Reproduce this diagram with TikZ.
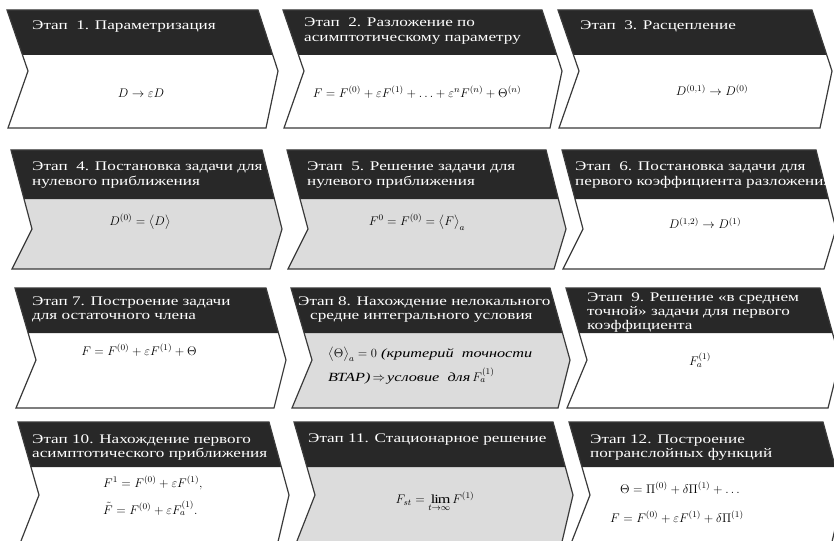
\RequirePackage{fix-cm}
\documentclass[tikz,border=0pt]{standalone}
\usepackage{fontspec}
\setmainfont{Liberation Serif}[FakeStretch=1.3]
\usepackage{graphicx}
\usepackage{amsmath}
\definecolor{hdr}{HTML}{282828}
\definecolor{bodygray}{HTML}{DCDCDC}
\definecolor{outc}{HTML}{3A3A3A}
\newcommand\hfont{\fontsize{13.2}{14.5}\selectfont}
\newcommand\ffont{\fontsize{12.5}{15}\selectfont}
\newcommand\mth[1]{$#1$}
\tikzset{
  hdrtext/.style={anchor=base west, inner sep=0pt, text=white, font=\hfont},
  formula/.style={inner sep=0pt, font=\ffont},
  formulaleft/.style={inner sep=0pt, font=\ffont, anchor=base west},
  chevline/.style={draw=outc, line width=1.2pt, line join=miter},
}
% #1 x0, #2 width, #3 top, #4 header bottom, #5 mid, #6 bottom, #7 body fill
\newcommand\chev[7]{%
  \pgfmathsetmacro\hL{#1+21*(#4-#3)/(#5-#3)}%
  \pgfmathsetmacro\hR{#1+#2+20*(#4-#3)/(#5-#3)}%
  \pgfmathsetmacro\nL{#1+21}%
  \pgfmathsetmacro\nR{#1+#2+20}%
  \pgfmathsetmacro\bL{#1+1}%
  \pgfmathsetmacro\bR{#1+#2+8}%
  \pgfmathsetmacro\tR{#1+#2}%
  \path[fill=#7] (#1,#3) -- (\tR,#3) -- (\nR,#5) -- (\bR,#6) -- (\bL,#6) -- (\nL,#5) -- cycle;
  \path[fill=hdr] (#1,#3) -- (\tR,#3) -- (\hR,#4) -- (\hL,#4) -- cycle;
  \path[chevline] (#1,#3) -- (\tR,#3) -- (\nR,#5) -- (\bR,#6) -- (\bL,#6) -- (\nL,#5) -- cycle;
}
\begin{document}
\begin{tikzpicture}[x=1pt,y=-1pt]
\useasboundingbox (0,0) rectangle (834,540);
\clip (0,0) rectangle (834,540);
\fill[white] (0,0) rectangle (834,540);
% row 1
\chev{7}{251}{10}{55}{71}{128}{white}
\chev{283}{259}{10}{55}{71}{128}{white}
\chev{558}{254}{10}{55}{71}{128}{white}
% row 2
\chev{11}{251}{150}{199}{229}{269}{bodygray}
\chev{287}{259}{150}{199}{229}{269}{bodygray}
\chev{562}{254}{150}{199}{229}{269}{white}
% row 3
\chev{15}{251}{288}{333}{360}{408}{white}
\chev{291}{259}{288}{333}{360}{408}{bodygray}
\chev{566}{254}{288}{333}{360}{408}{white}
% row 4
\chev{18}{251}{422}{467}{495}{546}{white}
\chev{294}{259}{422}{467}{495}{546}{bodygray}
\chev{569}{254}{422}{467}{495}{546}{white}

% header texts
\node[hdrtext] (h1) at (32,29.5) {Этап~~1. Параметризация};
\node[hdrtext] (h2a) at (304,27) {Этап~~2. Разложение по};
\node[hdrtext] (h2b) at (304,41.5) {асимптотическому параметру};
\node[hdrtext] (h3) at (580,30) {Этап~~3. Расцепление};

\node[hdrtext] (h4a) at (32,171) {Этап~~4. Постановка задачи для};
\node[hdrtext] (h4b) at (32,185.5) {нулевого приближения};
\node[hdrtext] (h5a) at (307,171) {Этап~~5. Решение задачи для};
\node[hdrtext] (h5b) at (307,185.5) {нулевого приближения};
\node[hdrtext] (h6a) at (575,171) {Этап~~6. Постановка задачи для};
\node[hdrtext] (h6b) at (575,185.5) {первого коэффициента разложения};

\node[hdrtext] (h7a) at (32,305) {Этап 7. Построение задачи};
\node[hdrtext] (h7b) at (32,319.5) {для остаточного члена};
\node[hdrtext] (h8a) at (298,305) {Этап 8. Нахождение нелокального};
\node[hdrtext] (h8b) at (310,319.5) {средне интегрального условия};
\node[hdrtext] (h9a) at (587,301) {Этап~~9. Решение «в среднем};
\node[hdrtext] (h9b) at (587,315) {точной» задачи для первого};
\node[hdrtext] (h9c) at (587,329) {коэффициента};

\node[hdrtext] (h10a) at (32,443) {Этап 10. Нахождение первого};
\node[hdrtext] (h10b) at (32,457.5) {асимптотического приближения};
\node[hdrtext] (h11) at (308,442) {Этап 11. Стационарное решение};
\node[hdrtext] (h12a) at (590,443) {Этап 12. Построение};
\node[hdrtext] (h12b) at (590,457.5) {погранслойных функций};

% formulas
\node[formula] (f1) at (141,93) {\mth{D\to\varepsilon D}};
\node[formula] (f2) at (417,92) {\mth{F=F^{(0)}+\varepsilon F^{(1)}+\ldots+\varepsilon^{n}F^{(n)}+\Theta^{(n)}}};
\node[formula] (f3) at (712,90) {\mth{D^{(0,1)}\to D^{(0)}}};
\node[formula] (f4) at (140,222) {\mth{D^{(0)}=\bigl\langle D\bigr\rangle}};
\node[formula] (f5) at (417,222) {\mth{F^{0}=F^{(0)}=\bigl\langle F\bigr\rangle_{a}}};
\node[formula] (f6) at (705,223) {\mth{D^{(1,2)}\to D^{(1)}}};
\node[formula] (f7) at (139,350) {\mth{F=F^{(0)}+\varepsilon F^{(1)}+\Theta}};
\node[formulaleft] (f8a) at (328,357) {\mth{\bigl\langle\Theta\bigr\rangle_{a}=0}\ \textit{(критерий\ \ точности}};
\node[formulaleft] (f8b) at (328,381) {\textit{ВТАР)}\,\mth{\Rightarrow}\,\textit{условие\ \ для}\,\mth{F_{a}^{(1)}}};
\node[formula] (f9) at (700,360) {\mth{F_{a}^{(1)}}};
\node[formulaleft] (f10a) at (103,487) {\mth{F^{1}=F^{(0)}+\varepsilon F^{(1)},}};
\node[formulaleft] (f10b) at (103,514) {\mth{\tilde F=F^{(0)}+\varepsilon F_{a}^{(1)}.}};
\node[formula] (f11) at (435,502) {\mth{F_{st}=\lim\limits_{t\to\infty}F^{(1)}}};
\node[formulaleft] (f12a) at (620,493) {\mth{\Theta=\Pi^{(0)}+\delta\Pi^{(1)}+\ldots}};
\node[formulaleft] (f12b) at (610,522) {\mth{F=F^{(0)}+\varepsilon F^{(1)}+\delta\Pi^{(1)}}};
\end{tikzpicture}
\end{document}
